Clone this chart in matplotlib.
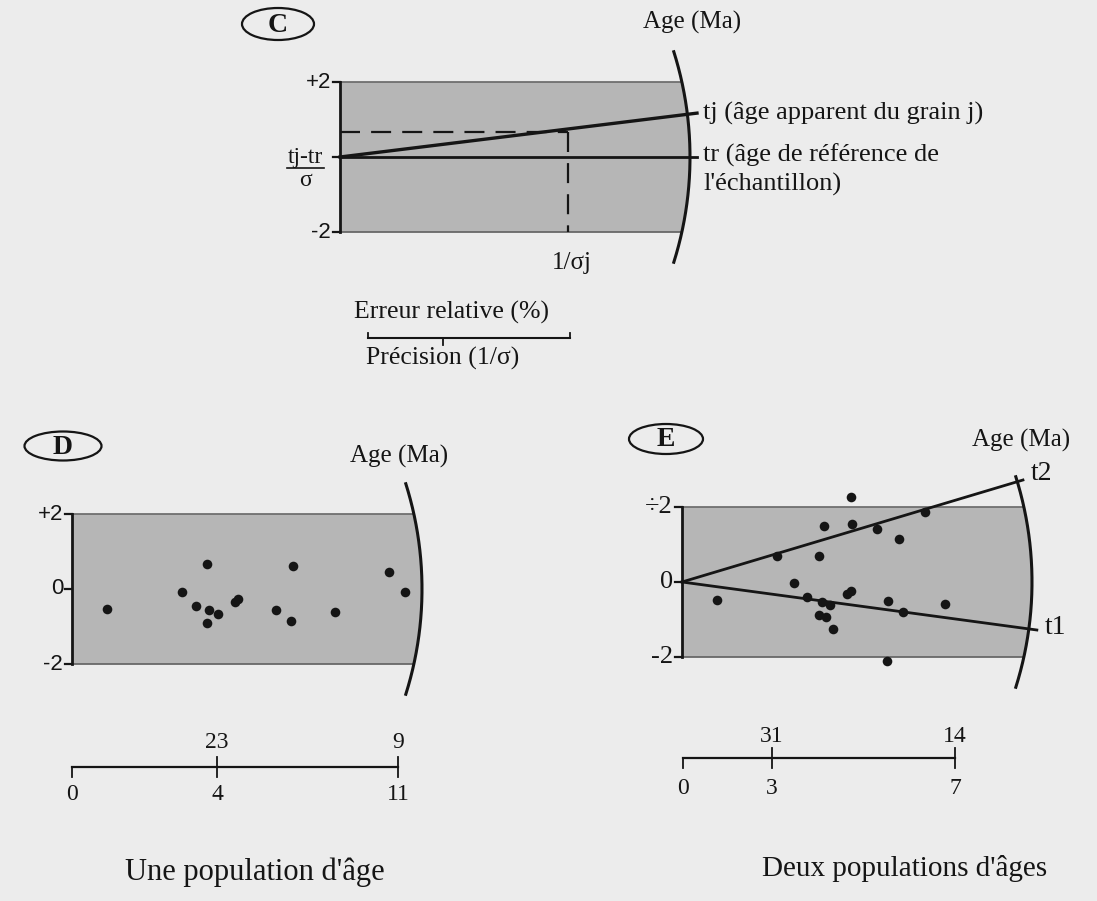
import numpy as np
import matplotlib
matplotlib.use("Agg")
import matplotlib.pyplot as plt
from matplotlib.patches import Ellipse

# ------------------------------------------------------------------ data
# Panel C (schematic radial plot)
c_tj_x = [0.0, 10.2]          # precision
c_tj_y = [0.0, 1.17]          # standardised estimate
c_tr_x = [0.0, 10.2]
c_tr_y = [0.0, 0.0]
c_sigma_j = 6.51              # 1/sigma_j
c_dash_y = 0.67

# Panel D : one age population
d_prec = [1.17, 3.72, 4.18, 4.55, 4.63, 4.91, 4.57, 5.50, 5.61, 6.88,
          7.46, 7.40, 8.87, 10.68, 11.23]
d_z = [-0.53, -0.07, -0.45, 0.66, -0.57, -0.66, -0.91, -0.34, -0.27, -0.55,
       0.61, -0.84, -0.60, 0.45, -0.07]

# Panel E : two age populations
e_prec = [4.38, 3.68, 4.41, 5.06, 6.30, 5.63, 2.46, 3.55, 2.90, 0.91, 3.24,
          3.63, 3.84, 4.28, 4.38, 3.55, 3.73, 3.92, 5.34, 5.73, 6.82, 5.32]
e_z = [2.27, 1.49, 1.55, 1.41, 1.87, 1.15, 0.69, 0.69, -0.03, -0.48, -0.40,
       -0.53, -0.61, -0.32, -0.24, -0.88, -0.93, -1.25, -0.51, -0.80, -0.59,
       -2.11]
e_t2_x = [0.0, 8.84]
e_t2_y = [0.0, 2.72]
e_t1_x = [0.0, 9.20]
e_t1_y = [0.0, -1.28]

yticks_vals = [2, 0, -2]
d_ytick_labels = ["+2", "0", "-2"]
e_ytick_labels = ["\u00f72", "0", "-2"]

d_bar_bottom = ["0", "4", "11"]
d_bar_top = ["23", "9"]
e_bar_bottom = ["0", "3", "7"]
e_bar_top = ["31", "14"]
d_bar_frac = [0.0, 0.445, 1.0]
e_bar_frac = [0.0, 0.327, 1.0]

# ------------------------------------------------------------------ style
W, H = 1097, 901
BG = "#ececec"
SHADE = "#b6b6b6"
INK = "#151515"
SERIF = ["Liberation Serif", "DejaVu Serif"]
SANS = ["Liberation Sans", "DejaVu Sans"]
R = 350.0      # arc radius (pixels)
SY = 37.5      # pixels per unit of standardised estimate

fig = plt.figure(figsize=(W / 100, H / 100), dpi=100)
fig.patch.set_facecolor(BG)

# overlay axes in pixel coordinates for annotations
ov = fig.add_axes([0, 0, 1, 1])
ov.set_xlim(0, W)
ov.set_ylim(H, 0)
ov.axis("off")


def panel(ox, oy, sx, box):
    x0, y0, x1, y1 = box
    ax = fig.add_axes([x0 / W, 1 - y1 / H, (x1 - x0) / W, (y1 - y0) / H])
    ax.set_xlim((x0 - ox) / sx, (x1 - ox) / sx)
    ax.set_ylim((oy - y1) / SY, (oy - y0) / SY)
    ax.axis("off")
    ax.patch.set_alpha(0)
    return ax


def radial_frame(ax, sx, labels, fam, fs):
    y = np.linspace(-2, 2, 300)
    xr = np.sqrt(R ** 2 - (y * SY) ** 2) / sx
    ax.fill_betweenx(y, 0, xr, color=SHADE, lw=0, zorder=1)
    ax.plot([0, xr[-1]], [2, 2], color="#5a5a5a", lw=1.1, zorder=2)
    ax.plot([0, xr[0]], [-2, -2], color="#5a5a5a", lw=1.1, zorder=2)
    th = np.radians(np.linspace(-17.5, 17.5, 300))
    ax.plot(R * np.cos(th) / sx, R * np.sin(th) / SY, color=INK, lw=2.2,
            zorder=4, clip_on=False)
    ax.plot([0, 0], [-2, 2], color=INK, lw=2.0, zorder=4, clip_on=False)
    for v, lab in zip(yticks_vals, labels):
        ax.plot([-7 / sx, 0], [v, v], color=INK, lw=1.6, clip_on=False)
        if lab:
            ax.text(-9 / sx, v, lab, ha="right", va="center", family=fam,
                    fontsize=fs, color=INK)


# ------------------------------------------------------------------ panel C
sxC = 35.0
axC = panel(340, 157, sxC, (260, 40, 760, 280))
radial_frame(axC, sxC, ["+2", "", "-2"], SANS, 16)
axC.plot(c_tr_x, c_tr_y, color=INK, lw=2.0, zorder=3, clip_on=False)
axC.plot(c_tj_x, c_tj_y, color=INK, lw=2.4, zorder=3, clip_on=False)
axC.plot([0, c_sigma_j], [c_dash_y, c_dash_y], color=INK, lw=1.6,
         dashes=(9, 5), zorder=3)
axC.plot([c_sigma_j, c_sigma_j], [c_dash_y, -2], color=INK, lw=1.6,
         dashes=(9, 5), zorder=3)

ov.add_patch(Ellipse((278, 24), 72, 32, fill=False, lw=1.6, color=INK))
ov.text(278, 25, "C", ha="center", va="center", family=SERIF, fontsize=20,
        fontweight="bold", color=INK)
ov.text(692, 22, "Age (Ma)", ha="center", va="center", family=SERIF,
        fontsize=18, color=INK)
ov.text(305, 157, "tj-tr", ha="center", va="center", family=SERIF,
        fontsize=17, color=INK)
ov.plot([287, 324], [168, 168], color=INK, lw=1.2)
ov.text(305, 180, "\u03c3", ha="center", va="center", family=SERIF,
        fontsize=17, color=INK)
ov.text(703, 113, "tj (âge apparent du grain j)", ha="left", va="center",
        family=SERIF, fontsize=19, color=INK)
ov.text(703, 155, "tr (âge de référence de", ha="left", va="center",
        family=SERIF, fontsize=19, color=INK)
ov.text(703, 184, "l'échantillon)", ha="left", va="center",
        family=SERIF, fontsize=19, color=INK)
ov.text(572, 263, "1/\u03c3j", ha="center", va="center", family=SERIF,
        fontsize=18, color=INK)

ov.text(452, 312, "Erreur relative (%)", ha="center", va="center",
        family=SERIF, fontsize=18.5, color=INK)
ov.plot([368, 570], [338, 338], color=INK, lw=1.5)
ov.plot([368, 368], [333, 338], color=INK, lw=1.3)
ov.plot([570, 570], [333, 338], color=INK, lw=1.3)
ov.plot([443, 443], [338, 345], color=INK, lw=1.3)
ov.text(443, 358, "Précision (1/\u03c3)", ha="center", va="center",
        family=SERIF, fontsize=18.5, color=INK)

# ------------------------------------------------------------------ panel D
sxD = 29.64
axD = panel(72, 589, sxD, (20, 470, 440, 710))
radial_frame(axD, sxD, d_ytick_labels, SANS, 16)
axD.scatter(d_prec, d_z, s=48, color=INK, zorder=5, lw=0)

ov.add_patch(Ellipse((63, 446), 77, 29, fill=False, lw=1.6, color=INK))
ov.text(63, 447, "D", ha="center", va="center", family=SERIF, fontsize=20,
        fontweight="bold", color=INK)
ov.text(399, 456, "Age (Ma)", ha="center", va="center", family=SERIF,
        fontsize=18, color=INK)

# ------------------------------------------------------------------ panel E
sxE = 38.57
axE = panel(682, 582, sxE, (630, 460, 1090, 700))
radial_frame(axE, sxE, e_ytick_labels, SERIF, 19)
axE.plot(e_t2_x, e_t2_y, color=INK, lw=2.0, zorder=3, clip_on=False)
axE.plot(e_t1_x, e_t1_y, color=INK, lw=2.0, zorder=3, clip_on=False)
axE.scatter(e_prec, e_z, s=48, color=INK, zorder=5, lw=0, clip_on=False)

ov.add_patch(Ellipse((666, 439), 74, 30, fill=False, lw=1.6, color=INK))
ov.text(666, 440, "E", ha="center", va="center", family=SERIF, fontsize=20,
        fontweight="bold", color=INK)
ov.text(1021, 440, "Age (Ma)", ha="center", va="center", family=SERIF,
        fontsize=18, color=INK)
ov.text(1031, 474, "t2", ha="left", va="center", family=SERIF, fontsize=20,
        color=INK)
ov.text(1045, 628, "t1", ha="left", va="center", family=SERIF, fontsize=20,
        color=INK)


# ------------------------------------------------------------------ scale bars
def scale_bar(x0, x1, y, frac, bottom, top, tick_up, lab_up, lab_dn):
    xs = [x0 + f * (x1 - x0) for f in frac]
    ov.plot([x0, x1], [y, y], color=INK, lw=1.6)
    ov.plot([xs[0], xs[0]], [y, y + 10], color=INK, lw=1.3)
    for xx in xs[1:]:
        ov.plot([xx, xx], [y - tick_up, y + 10], color=INK, lw=1.3)
    for xx, lab in zip(xs, bottom):
        ov.text(xx, lab_dn, lab, ha="center", va="center", family=SERIF,
                fontsize=17, color=INK)
    for xx, lab in zip(xs[1:], top):
        ov.text(xx, lab_up, lab, ha="center", va="center", family=SERIF,
                fontsize=17, color=INK)


scale_bar(72, 398, 767, d_bar_frac, d_bar_bottom, d_bar_top, 10, 742, 795)
scale_bar(683, 955, 758, e_bar_frac, e_bar_bottom, e_bar_top, 10, 737, 788)

ov.text(255, 872, "Une population d'âge", ha="center", va="center",
        family=SERIF, fontsize=22, color=INK)
ov.text(905, 868, "Deux populations d'âges", ha="center", va="center",
        family=SERIF, fontsize=21, color=INK)

fig.savefig("out.png", dpi=100, facecolor=BG)
